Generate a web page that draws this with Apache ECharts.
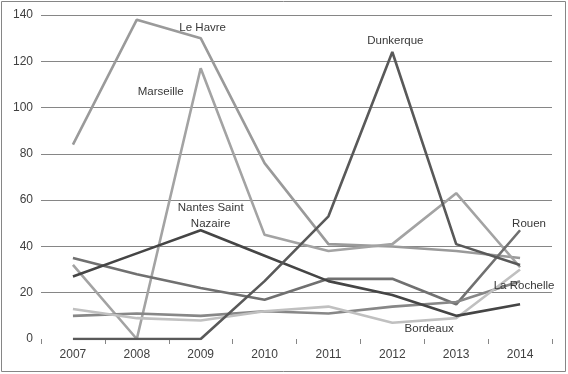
<!DOCTYPE html>
<html>
<head>
<meta charset="utf-8">
<script src="https://cdn.jsdelivr.net/npm/echarts@6/dist/echarts.min.js"></script>
<style>
html,body{margin:0;padding:0;background:#fff;}
#chart{width:568px;height:374px;}
</style>
</head>
<body>
<div id="chart"></div>
<script>
var years = ['2007','2008','2009','2010','2011','2012','2013','2014'];
var leHavre = [84, 138, 130, 76, 41, 40, 38, 35];
var marseille = [32, 0, 117, 45, 38, 41, 63, 31];
var dunkerque = [0, 0, 0, 25, 53, 124, 41, 32];
var nantesSaintNazaire = [27, 37, 47, 36, 25, 19, 10, 15];
var rouen = [35, 28, 22, 17, 26, 26, 15, 47];
var laRochelle = [10, 11, 10, 12, 11, 14, 16, 25];
var bordeaux = [13, 9, 8, 12, 14, 7, 9, 30];

var chart = echarts.init(document.getElementById('chart'), null, {renderer:'canvas'});
var fontFam = '"Liberation Sans", Arial, sans-serif';

function mk(name, data, color, labelIdx, labelText, offset) {
  return {
    name: name,
    type: 'line',
    data: data.map(function (v, i) {
      if (i === labelIdx) {
        return {
          value: v,
          label: {
            show: true,
            position: 'inside',
            offset: offset,
            formatter: labelText,
            color: '#383838',
            fontSize: 11.5,
            fontFamily: fontFam,
            lineHeight: 16,
            align: 'center'
          }
        };
      }
      return v;
    }),
    showSymbol: true,
    symbol: 'circle',
    symbolSize: 0,
    lineStyle: {color: color, width: 2.6},
    itemStyle: {color: color},
    emphasis: {disabled: true},
    silent: true
  };
}

var option = {
  animation: false,
  backgroundColor: '#fff',
  grid: {left: 41, right: 16, top: 15, bottom: 35, containLabel: false},
  xAxis: {
    type: 'category',
    data: years,
    boundaryGap: true,
    axisLine: {show: false},
    axisTick: {show: true, length: 5, lineStyle: {color: '#868686'}},
    axisLabel: {color: '#404040', fontSize: 12, fontFamily: fontFam, margin: 10}
  },
  yAxis: {
    type: 'value',
    min: 0, max: 140, interval: 20,
    axisLine: {show: false},
    axisTick: {show: false},
    splitLine: {showMinLine: false, lineStyle: {color: '#868686', width: 1}},
    axisLabel: {color: '#404040', fontSize: 12, fontFamily: fontFam, margin: 8}
  },
  graphic: [{
    type: 'rect',
    shape: {x: 1.5, y: 1.5, width: 564, height: 370},
    style: {fill: 'none', stroke: '#868686', lineWidth: 1},
    silent: true
  }],
  series: [
    mk('Le Havre', leHavre, '#9a9a9a', 2, 'Le Havre', [2, -10]),
    mk('Marseille', marseille, '#a3a3a3', 2, 'Marseille', [-40, 24]),
    mk('Rouen', rouen, '#707070', 7, 'Rouen', [9, -6]),
    mk('La Rochelle', laRochelle, '#878787', 7, 'La Rochelle', [4, 5]),
    mk('Bordeaux', bordeaux, '#c0c0c0', 6, 'Bordeaux', [-27, 11]),
    mk('Nantes Saint Nazaire', nantesSaintNazaire, '#454545', 2, 'Nantes Saint\nNazaire', [10, -14]),
    mk('Dunkerque', dunkerque, '#595959', 5, 'Dunkerque', [3, -11])
  ]
};
chart.setOption(option);
</script>
</body>
</html>
